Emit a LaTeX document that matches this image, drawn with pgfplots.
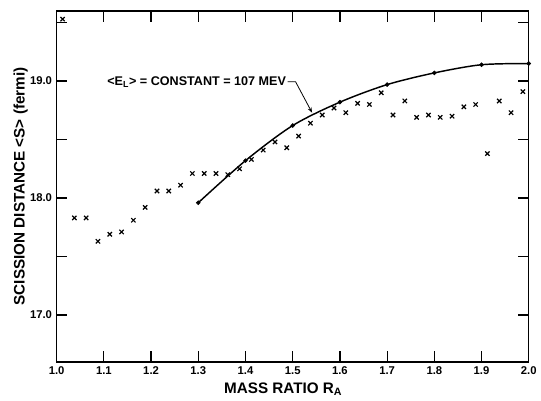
\documentclass[border=0pt]{standalone}
\usepackage{fontspec}
\setmainfont{Liberation Sans}
\usepackage{pgfplots}
\pgfplotsset{compat=1.18}
\usetikzlibrary{arrows.meta}
\begin{document}
\begin{tikzpicture}
\begin{axis}[
  scale only axis, width=356.25pt, height=264.75pt,
  xmin=1.0, xmax=2.0, ymin=16.6, ymax=19.6,
  xtick={1.0,1.1,1.2,1.3,1.4,1.5,1.6,1.7,1.8,1.9,2.0},
  xticklabels={\textbf{1.0},\textbf{1.1},\textbf{1.2},\textbf{1.3},\textbf{1.4},\textbf{1.5},\textbf{1.6},\textbf{1.7},\textbf{1.8},\textbf{1.9},\textbf{2.0}},
  ytick={17,17.5,18,18.5,19,19.5},
  yticklabels={\textbf{17.0},,\textbf{18.0},,\textbf{19.0},},
  major tick length=8pt,
  every tick/.append style={black, line width=0.9pt},
  xticklabel style={font=\fontsize{8.5}{10}\selectfont},
  yticklabel style={font=\fontsize{8.5}{10}\selectfont},
  xlabel={\textbf{MASS RATIO R\textsubscript{A}}},
  ylabel={\textbf{SCISSION DISTANCE <S> (fermi)}},
  every axis y label/.style={at={(axis description cs:-0.076,0.5)},rotate=90,anchor=center,font=\fontsize{11.5}{13}\selectfont},
  every axis x label/.style={at={(axis description cs:0.48,-0.079)},anchor=center,font=\fontsize{11.5}{13}\selectfont},
]
\addplot[only marks, mark=x, mark size=2.3pt, black, mark options={line width=0.9pt}] coordinates {
(1.0125,19.53)(1.0375,17.83)(1.0625,17.83)(1.0875,17.63)(1.1125,17.69)
(1.1375,17.71)(1.1625,17.81)(1.1875,17.92)(1.2125,18.06)(1.2375,18.06)
(1.2625,18.11)(1.2875,18.21)(1.3125,18.21)(1.3375,18.21)(1.3625,18.20)
(1.3875,18.25)(1.4125,18.33)(1.4375,18.41)(1.4625,18.48)(1.4875,18.43)
(1.5125,18.53)(1.5375,18.64)(1.5625,18.71)(1.5875,18.77)(1.6125,18.73)
(1.6375,18.81)(1.6625,18.80)(1.6875,18.90)(1.7125,18.71)(1.7375,18.83)
(1.7625,18.69)(1.7875,18.71)(1.8125,18.69)(1.8375,18.70)(1.8625,18.78)
(1.8875,18.80)(1.9125,18.38)(1.9375,18.83)(1.9625,18.73)(1.9875,18.91)
};
\addplot[black, line width=1.1pt, smooth, mark=*, mark size=1.5pt, mark options={line width=0.4pt}] coordinates {
(1.3,17.96)(1.4,18.32)(1.5,18.62)(1.6,18.82)(1.7,18.97)(1.8,19.07)(1.9,19.14)(2.0,19.15)
};
\node[anchor=east, inner sep=1pt, font=\bfseries\fontsize{9.5}{11}\selectfont] at (axis cs:1.489,18.995) {<E\textsubscript{L}> = CONSTANT = 107 MEV};
\draw[line width=0.6pt, -{Stealth[length=4pt,width=3pt]}] (axis cs:1.489,18.995) -- (axis cs:1.506,18.995) -- (axis cs:1.541,18.73);
\coordinate (sw) at (rel axis cs:0,0);
\coordinate (ne) at (rel axis cs:1,1);
\coordinate (nw) at (rel axis cs:0,1);
\coordinate (se) at (rel axis cs:1,0);
\end{axis}
\draw[line width=0.8pt] (sw) rectangle (ne);
\foreach \f in {0.1,0.2,0.3,0.4,0.5,0.6,0.7,0.8,0.9}{
  \draw[line width=0.9pt] ([xshift=\f*356.25pt]sw) -- ([xshift=\f*356.25pt,yshift=8pt]sw);
  \draw[line width=0.9pt] ([xshift=\f*356.25pt]nw) -- ([xshift=\f*356.25pt,yshift=-8pt]nw);
}
\foreach \g in {0.13333,0.3,0.46667,0.63333,0.8}{
  \draw[line width=0.9pt] ([yshift=\g*264.75pt]sw) -- ([yshift=\g*264.75pt,xshift=8pt]sw);
}
\foreach \g in {0.13333,0.3,0.46667,0.63333,0.8,0.96667}{
  \draw[line width=0.9pt] ([yshift=\g*264.75pt]se) -- ([yshift=\g*264.75pt,xshift=-8pt]se);
}
\path ([shift={(-42.75pt,-26.25pt)}]sw) rectangle ([shift={(6.75pt,8.25pt)}]ne);
\end{tikzpicture}
\end{document}
